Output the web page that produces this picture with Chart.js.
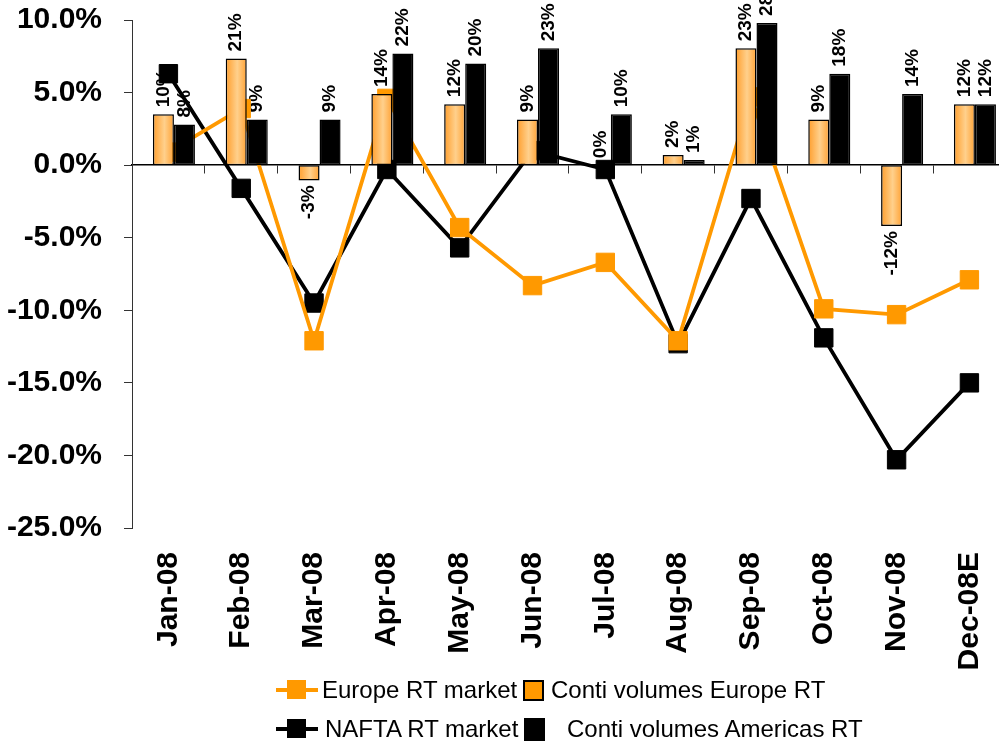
<!DOCTYPE html>
<html>
<head>
<meta charset="utf-8">
<script src="https://cdn.jsdelivr.net/npm/chart.js@4.4.1/dist/chart.umd.min.js"></script>
<style>
  html, body { margin: 0; padding: 0; background: #fff; overflow: hidden; }
  #wrap { position: relative; width: 999px; height: 743px; overflow: hidden; }
  #chart { position: absolute; left: 0; top: -20px; }
  .lg-text { position: absolute; font: 24px "Liberation Sans", Arial, sans-serif; line-height: 24px; color: #000; white-space: nowrap; }
  .lg-line { position: absolute; width: 42px; height: 4px; }
  .lg-mark { position: absolute; width: 19px; height: 19px; }
  .lg-box { position: absolute; box-sizing: border-box; width: 21px; height: 21px; border: 2px solid #000; }
</style>
</head>
<body>
<div id="wrap">
  <canvas id="chart" width="1030" height="763"></canvas>

  <div class="lg-line" style="left:276px;top:688px;background:#FF9900"></div>
  <div class="lg-mark" style="left:287px;top:680px;background:#FF9900"></div>
  <div class="lg-text" style="left:322px;top:678px">Europe RT market</div>
  <div class="lg-box" style="left:523px;top:680px;background:#FF9900"></div>
  <div class="lg-text" style="left:551px;top:678px">Conti volumes Europe RT</div>

  <div class="lg-line" style="left:276px;top:727px;background:#000"></div>
  <div class="lg-mark" style="left:287px;top:719px;background:#000"></div>
  <div class="lg-text" style="left:325px;top:717px">NAFTA RT market</div>
  <div class="lg-box" style="left:524px;top:718px;height:23px;background:#000"></div>
  <div class="lg-text" style="left:567px;top:717px">Conti volumes Americas RT</div>
</div>

<script>
// Data
const months = ['Jan-08', 'Feb-08', 'Mar-08', 'Apr-08', 'May-08', 'Jun-08',
                'Jul-08', 'Aug-08', 'Sep-08', 'Oct-08', 'Nov-08', 'Dec-08E'];
const europeMarket = [0.9, 3.9, -12.1, 4.6, -4.3, -8.3, -6.7, -12.1, 4.7, -9.9, -10.3, -7.9];
const naftaMarket = [6.3, -1.6, -9.5, -0.3, -5.7, 1.0, -0.3, -12.3, -2.3, -11.9, -20.3, -15.0];
const contiEurope = [10, 21, -3, 14, 12, 9, 0, 2, 23, 9, -12, 12];
const contiAmericas = [8, 9, 9, 22, 20, 23, 10, 1, 28, 18, 14, 12];
const yTicks = [10, 5, 0, -5, -10, -15, -20, -25];

const ORANGE = '#FF9900';
const FONT = '"Liberation Sans", Arial, sans-serif';
// the volume bars sit on their own (hidden) scale, 1% of volume = 0.35% of the market axis
const barRatio = 0.35;
const barShift = -5;

Chart.defaults.font.family = FONT;
Chart.defaults.color = '#000';

// labels under the bars, gradient fill and small shift of the bar groups
const barPlugin = {
    id: 'barPlugin',
    beforeDatasetsDraw(chart) {
        const ctx = chart.ctx;
        ctx.save();
        ctx.font = 'bold 19px ' + FONT;
        ctx.fillStyle = '#000';
        ctx.textBaseline = 'middle';
        [3, 4].forEach(di => {
            const meta = chart.getDatasetMeta(di);
            const values = chart.data.datasets[di].data;
            meta.data.forEach((bar, i) => {
                const v = values[i];
                ctx.save();
                if (v >= 0) {
                    ctx.translate(bar.x + barShift, bar.y - 7);
                    ctx.rotate(-Math.PI / 2);
                    ctx.textAlign = 'left';
                } else {
                    ctx.translate(bar.x + barShift, bar.y + 5);
                    ctx.rotate(-Math.PI / 2);
                    ctx.textAlign = 'right';
                }
                ctx.fillText(v + '%', 0, 0);
                ctx.restore();
            });
        });
        ctx.restore();
    },
    beforeDatasetDraw(chart, args) {
        if (args.meta.type !== 'bar') return;
        const ctx = chart.ctx;
        if (args.index === 3) {
            args.meta.data.forEach(bar => {
                const g = ctx.createLinearGradient(bar.x - bar.width / 2, 0, bar.x + bar.width / 2, 0);
                g.addColorStop(0, '#FF9E2C');
                g.addColorStop(0.55, '#FFD08C');
                g.addColorStop(1, '#FFA235');
                bar.options.backgroundColor = g;
            });
        }
        ctx.save();
        ctx.translate(barShift, 0);
    },
    afterDatasetDraw(chart, args) {
        if (args.meta.type !== 'bar') return;
        chart.ctx.restore();
    }
};

const ctx = document.getElementById('chart').getContext('2d');
const chart = new Chart(ctx, {
    data: {
        labels: months,
        datasets: [
            {
                type: 'line',
                label: 'Europe RT market',
                data: europeMarket,
                yAxisID: 'y',
                borderColor: ORANGE,
                backgroundColor: ORANGE,
                borderWidth: 3.8,
                pointStyle: 'rect',
                pointRadius: 13,
                pointBorderWidth: 1,
                pointBackgroundColor: ORANGE,
                pointBorderColor: ORANGE,
                order: 1
            },
            {
                type: 'line',
                label: 'NAFTA RT market',
                data: naftaMarket,
                yAxisID: 'y',
                borderColor: '#000',
                backgroundColor: '#000',
                borderWidth: 3.8,
                pointStyle: 'rect',
                pointRadius: 13,
                pointBorderWidth: 1,
                pointBackgroundColor: '#000',
                pointBorderColor: '#000',
                order: 2
            },
            {
                // empty slot so that the Europe bar sits on the month
                type: 'bar',
                label: '',
                data: months.map(() => null),
                yAxisID: 'y2',
                order: 0
            },
            {
                type: 'bar',
                label: 'Conti volumes Europe RT',
                data: contiEurope,
                yAxisID: 'y2',
                backgroundColor: () => ORANGE,
                borderColor: '#000',
                borderWidth: 1.5,
                borderSkipped: false,
                order: 0
            },
            {
                type: 'bar',
                label: 'Conti volumes Americas RT',
                data: contiAmericas,
                yAxisID: 'y2',
                backgroundColor: '#000',
                borderColor: '#000',
                borderWidth: 1.5,
                borderSkipped: false,
                order: 0
            }
        ]
    },
    options: {
        responsive: false,
        animation: false,
        devicePixelRatio: 1,
        layout: { padding: { left: 0, top: 0, right: 0, bottom: 0 } },
        plugins: {
            legend: { display: false },
            tooltip: { enabled: false }
        },
        datasets: {
            bar: { categoryPercentage: 0.866, barPercentage: 1 }
        },
        scales: {
            x: {
                type: 'category',
                position: 'bottom',
                offset: true,
                grid: { display: false, drawTicks: false },
                border: { display: false },
                ticks: {
                    autoSkip: false,
                    minRotation: 90,
                    maxRotation: 90,
                    padding: 24,
                    font: { size: 30, weight: 'bold' },
                    color: '#000'
                },
                afterFit: scale => { scale.height = 215; }
            },
            x0: {
                type: 'category',
                axis: 'x',
                position: { y: 0 },
                offset: true,
                grid: {
                    offset: true,
                    drawOnChartArea: false,
                    drawTicks: true,
                    tickLength: 8,
                    color: '#333',
                    lineWidth: 1
                },
                border: { display: true, color: '#000', width: 1.5 },
                ticks: { display: false }
            },
            y: {
                type: 'linear',
                position: 'left',
                min: -25,
                max: 10,
                afterBuildTicks: scale => { scale.ticks = yTicks.map(v => ({ value: v })); },
                grid: {
                    drawOnChartArea: false,
                    drawTicks: true,
                    tickLength: 8,
                    color: '#333'
                },
                border: { display: true, color: '#333', width: 1 },
                ticks: {
                    padding: 22,
                    font: { size: 30, weight: 'bold' },
                    color: '#000',
                    callback: v => v.toFixed(1) + '%'
                },
                afterFit: scale => { scale.width = 132; }
            },
            y2: {
                type: 'linear',
                display: false,
                min: -25 / barRatio,
                max: 10 / barRatio
            }
        }
    },
    plugins: [barPlugin]
});
</script>
</body>
</html>
